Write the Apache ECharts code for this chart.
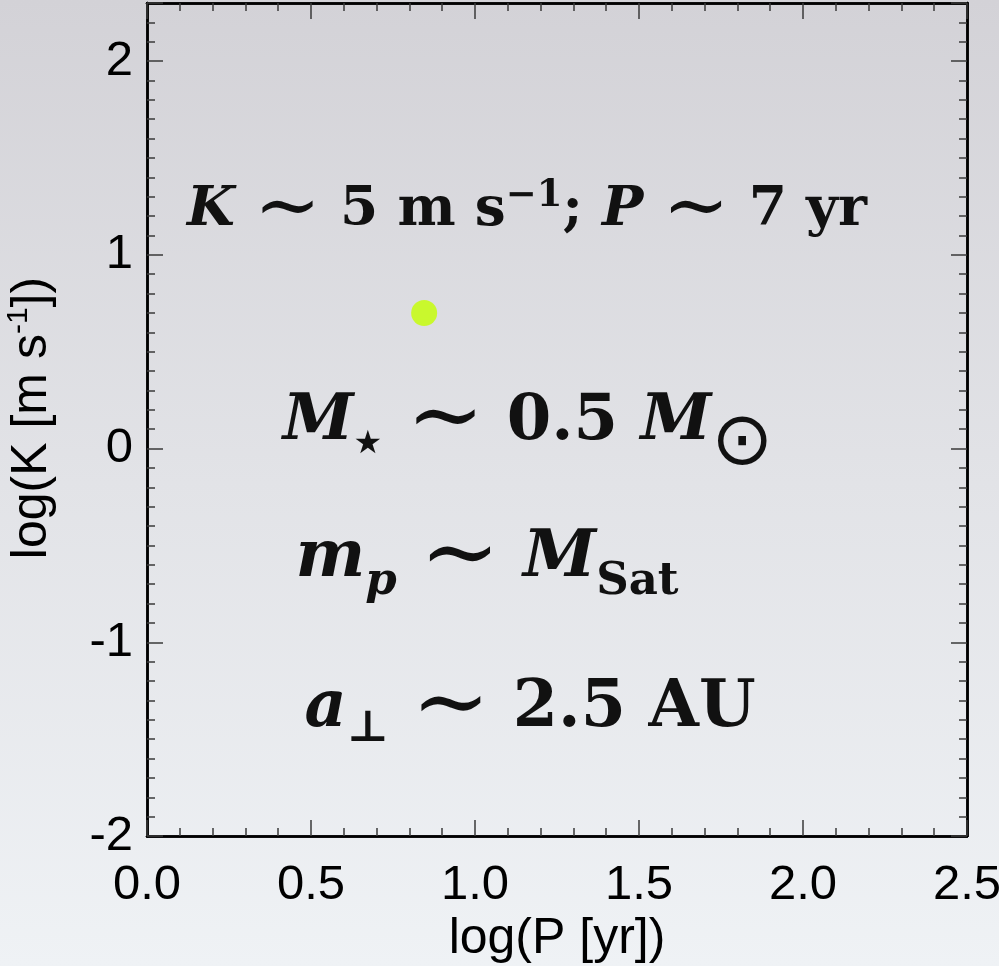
<!DOCTYPE html>
<html>
<head>
<meta charset="utf-8">
<script src="https://cdn.jsdelivr.net/npm/echarts@6/dist/echarts.min.js"></script>
<style>
  html, body { margin: 0; padding: 0; width: 999px; height: 966px; overflow: hidden; }
  #chart { width: 999px; height: 966px; }
</style>
</head>
<body>
<div id="chart"></div>
<script>
// Planet location in the period / semi-amplitude plane (log10 units)
const logPeriod = [0.845];
const logK = [0.70];

// Axis ranges and labelled ticks
const xRange = [0, 2.5];
const yRange = [-2, 2.3];
const xTickValues = [0, 0.5, 1.0, 1.5, 2.0, 2.5];
const xTickLabels = ['0.0', '0.5', '1.0', '1.5', '2.0', '2.5'];
const yTickValues = [-2, -1, 0, 1, 2];
const yTickLabels = ['-2', '-1', '0', '1', '2'];

const SANS = '"Liberation Sans", Arial, Helvetica, sans-serif';
const SERIF = '"DejaVu Serif", "Liberation Serif", serif';
const SYMB = '"DejaVu Sans", sans-serif';

function labelFor(values, labels) {
  return function (v) {
    const i = values.findIndex(t => Math.abs(t - v) < 1e-9);
    return i >= 0 ? labels[i] : '';
  };
}

// One axis per side for the long ticks, one more for the short ticks
function xAxis(position, step, tickLen, withLabels) {
  return {
    type: 'value', position: position, min: xRange[0], max: xRange[1], interval: step,
    axisLine: { show: true, onZero: false, lineStyle: { color: '#000', width: 2.5 } },
    axisTick: { show: true, inside: true, length: tickLen, lineStyle: { color: '#3a3a3a', width: 1.5 } },
    axisLabel: {
      show: withLabels, margin: 25, color: '#000', fontSize: 49, fontFamily: SANS,
      formatter: labelFor(xTickValues, xTickLabels)
    },
    splitLine: { show: false }
  };
}
function yAxis(position, step, tickLen, withLabels) {
  return {
    type: 'value', position: position, min: yRange[0], max: yRange[1], interval: step,
    axisLine: { show: true, onZero: false, lineStyle: { color: '#000', width: 2.5 } },
    axisTick: { show: true, inside: true, length: tickLen, lineStyle: { color: '#3a3a3a', width: 1.5 } },
    axisLabel: {
      show: withLabels, margin: 14, color: '#000', fontSize: 49, fontFamily: SANS,
      formatter: labelFor(yTickValues, yTickLabels)
    },
    splitLine: { show: false }
  };
}

// Rich-text pieces for the math annotations.
// Lowered pieces hang from the top of the line box with a top padding,
// `drop` being how far the subscript baseline sits below the main baseline.
function mathRich(size, drop) {
  const lh = Math.round(size * 1.2);
  const sub = Math.round(size * 0.68);
  const rel = Math.round(size * 1.45);
  const sun = Math.round(size * 1.15);
  const star = Math.round(size * 0.5);
  const mainBase = lh / 2 + 0.346 * size;
  const subPad = Math.round(mainBase + drop - 0.846 * sub);
  const sunPad = Math.round(mainBase + 0.5 - sun / 2 - 0.346 * size + 0.346 * size);
  const hang = (pad) => ({ verticalAlign: 'top', lineHeight: 1, padding: [pad, 0, 0, 0] });
  return {
    bi: { fontFamily: SERIF, fontSize: size, fontWeight: 'bold', fontStyle: 'italic', fill: '#111', lineHeight: lh },
    b:  { fontFamily: SERIF, fontSize: size, fontWeight: 'bold', fill: '#111', lineHeight: lh },
    r:  { fontFamily: SERIF, fontSize: rel, fill: '#111', lineHeight: lh },
    sup: { fontFamily: SERIF, fontSize: sub, fontWeight: 'bold', fill: '#111', lineHeight: sub, verticalAlign: 'top' },
    sub: Object.assign({ fontFamily: SERIF, fontSize: sub, fontWeight: 'bold', fill: '#111' }, hang(subPad)),
    subi: Object.assign({ fontFamily: SERIF, fontSize: sub, fontWeight: 'bold', fontStyle: 'italic', fill: '#111' }, hang(subPad)),
    star: { fontFamily: SYMB, fontSize: star, fill: '#111', lineHeight: Math.round(size * 0.55), verticalAlign: 'bottom', padding: [0, 2, 0, 0] },
    sun: Object.assign({ fontFamily: SYMB, fontSize: sun, fill: '#111' }, hang(Math.round(0.946 * size + 0.5 - sun / 2)))
  };
}
function mathText(x, y, size, drop, text) {
  return {
    type: 'text', x: x, y: y, z: 10,
    style: { text: text, align: 'center', verticalAlign: 'middle', rich: mathRich(size, drop) }
  };
}

const chart = echarts.init(document.getElementById('chart'), null, { renderer: 'canvas' });

chart.setOption({
  backgroundColor: {
    type: 'linear', x: 0, y: 0, x2: 0, y2: 1,
    colorStops: [
      { offset: 0, color: '#d3d2d7' },
      { offset: 0.5, color: '#e2e3e7' },
      { offset: 1, color: '#eff2f5' }
    ]
  },
  animation: false,
  grid: { left: 147, right: 32, top: 3, bottom: 130, containLabel: false, outerBoundsMode: 'none' },
  xAxis: [
    xAxis('bottom', 0.5, 16, true),
    xAxis('bottom', 0.1, 8, false),
    xAxis('top', 0.5, 16, false),
    xAxis('top', 0.1, 8, false)
  ],
  yAxis: [
    yAxis('left', 1, 16, true),
    yAxis('left', 0.1, 8, false),
    yAxis('right', 1, 16, false),
    yAxis('right', 0.1, 8, false)
  ],
  series: [{
    type: 'scatter',
    xAxisIndex: 0, yAxisIndex: 0,
    symbol: 'circle', symbolSize: 26,
    itemStyle: { color: '#c4ff00' },
    data: logPeriod.map((p, i) => [p, logK[i]]),
    z: 5
  }],
  graphic: [
    // axis titles
    {
      type: 'text', x: 557, y: 939,
      style: { text: 'log(P [yr])', font: '50px ' + SANS, fill: '#000', align: 'center', verticalAlign: 'middle' }
    },
    {
      type: 'text', x: 32, y: 418, rotation: Math.PI / 2,
      style: {
        text: '{n|log(K [m s}{s|-1}{n|])}', align: 'center', verticalAlign: 'middle',
        rich: {
          n: { fontFamily: SANS, fontSize: 50, fill: '#000', lineHeight: 56 },
          s: { fontFamily: SANS, fontSize: 30, fill: '#000', lineHeight: 30, verticalAlign: 'top' }
        }
      }
    },
    // annotations
    mathText(527, 211, 55, 10, '{bi|K}{b| }{r|∼}{b| 5 m s}{sup|−1}{b|; }{bi|P}{b| }{r|∼}{b| 7 yr}'),
    mathText(528, 422, 64, 10, '{bi|M}{star|★}{b| }{r|∼}{b| 0.5 }{bi|M}{sun|⊙}'),
    mathText(487, 559, 66, 16, '{bi|m}{subi|p}{b| }{r|∼}{b| }{bi|M}{sub|Sat}'),
    mathText(530, 709, 65, 14, '{bi|a}{sub|⊥}{b| }{r|∼}{b| 2.5 AU}')
  ]
});
</script>
</body>
</html>
